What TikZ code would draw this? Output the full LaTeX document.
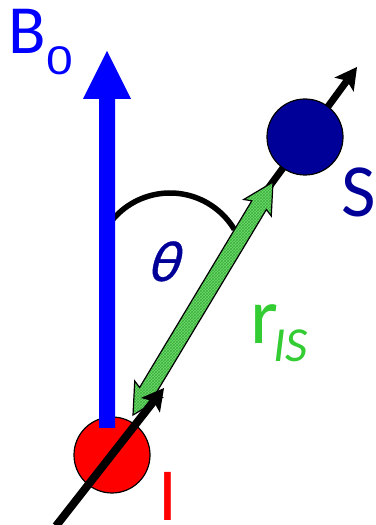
\documentclass[tikz,border=0pt]{standalone}
\usepackage{fontspec}
\setmainfont{Carlito}
\newfontfamily\slantfont[FakeSlant=0.3,FakeBold=0.6]{Carlito}
\newfontfamily\digitfont{Liberation Sans}
\usetikzlibrary{arrows.meta,patterns,calc}
\definecolor{navy}{RGB}{0,0,153}
\definecolor{lgreen}{RGB}{110,220,110}
\definecolor{hgreen}{RGB}{60,175,60}
\definecolor{tgreen}{RGB}{51,204,51}
\tikzset{
  spinarrow/.style={line width=#1, -{Stealth[length=22pt,width=24pt,inset=5pt,line width=0pt]}},
  nucleus/.style={circle, draw=black, line width=1.2pt, minimum size=76pt, inner sep=0pt},
  lab/.style={anchor=base west, inner sep=0pt},
}
\begin{document}
\begin{tikzpicture}[x=1pt,y=1pt]
\useasboundingbox (0,0) rectangle (375,525);

% angle arc
\draw[line width=5.5pt] (170,257) ++(147:75) arc[start angle=147, end angle=31, radius=75];

% upper black spin arrow behind S
\coordinate (sa) at (250,312);
\coordinate (sb) at (357,458);
\draw[spinarrow=7pt] (sa) -- (sb);
\node[nucleus, fill=navy] (S) at (305,388) {};

% green double arrow r_IS
\coordinate (gA) at (133,110);
\coordinate (gB) at (273,343);
\begin{scope}[shift={(gA)}, rotate=59.0]
  \def\L{271.8}
  \path[save path=\garrow] (0,0) -- (30,16) -- (27,8.5) -- (\L-27,8.5) -- (\L-30,16) -- (\L,0)
     -- (\L-30,-16) -- (\L-27,-8.5) -- (27,-8.5) -- (30,-16) -- cycle;
  \fill[lgreen, use path=\garrow];
  \fill[pattern=crosshatch, pattern color=hgreen, use path=\garrow];
  \draw[black, line width=1.2pt, line join=miter, use path=\garrow];
\end{scope}

% red nucleus I
\node[nucleus, fill=red] (I) at (112,70) {};

% blue B0 arrow
\fill[blue] (99,97) -- (115,97) -- (115,426) -- (131,426) -- (107,474) -- (83,426) -- (99,426) -- cycle;

% lower black spin arrow through I
\coordinate (ia) at (56,-1);
\coordinate (ib) at (164,137);
\draw[spinarrow=8pt] (ia) -- (ib);

% labels
\node[lab, text=blue, font=\fontsize{69}{69}\selectfont] (B) at (8,471) {B};
\node[lab, text=blue, font=\fontsize{40}{40}\digitfont, xscale=1.2] (B0) at (46,450) {0};
\node[lab, text=navy, font=\fontsize{75}{75}\selectfont] (Slab) at (341,308) {S};
\node[lab, text=red, font=\fontsize{75}{75}\selectfont] (Ilab) at (158,5) {I};
\node[lab, text=navy, font=\fontsize{58}{58}\slantfont] (th) at (146,244) {θ};
\node[lab, text=tgreen, font=\fontsize{80}{80}\selectfont] (r) at (250,181) {r};
\node[lab, text=tgreen, font=\fontsize{49}{49}\selectfont\itshape] (IS) at (273,163) {IS};
\end{tikzpicture}
\end{document}
